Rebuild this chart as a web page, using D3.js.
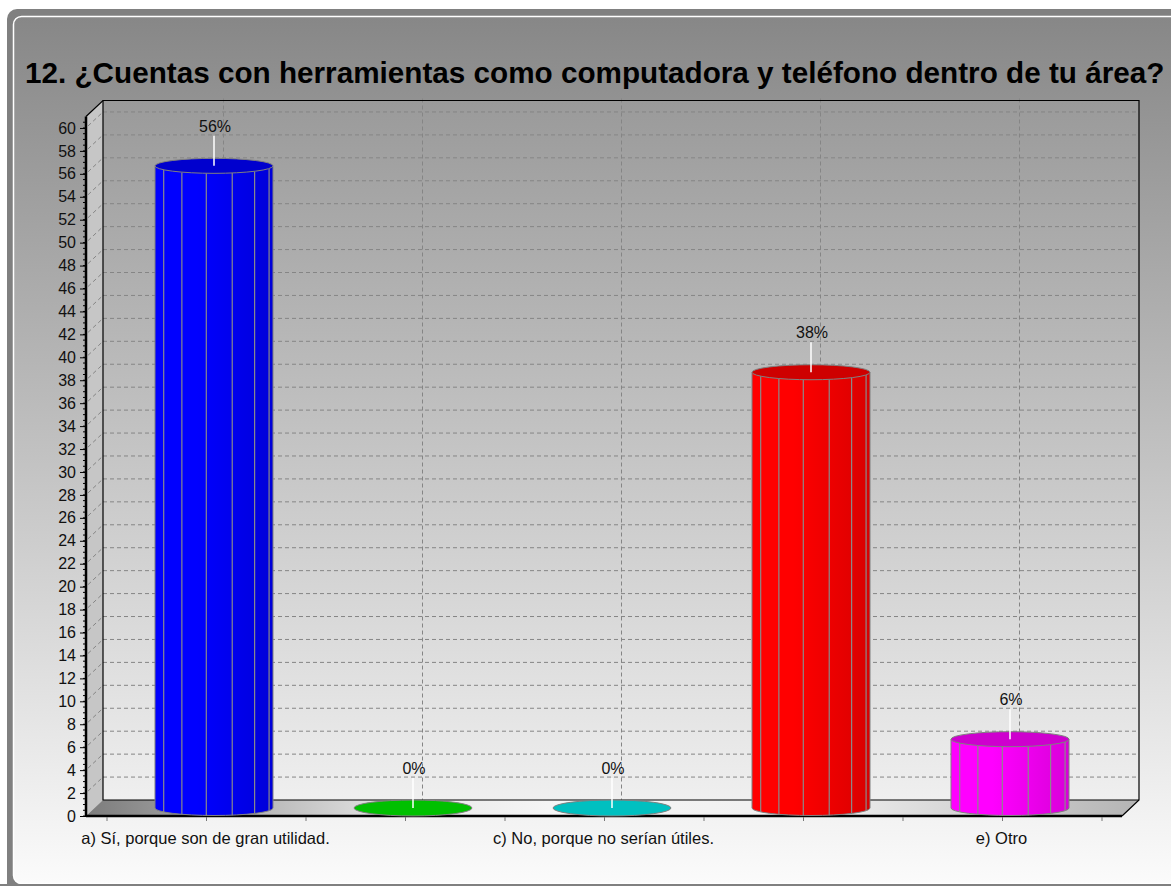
<!DOCTYPE html>
<html>
<head>
<meta charset="utf-8">
<script src="https://cdn.jsdelivr.net/npm/d3@7"></script>
<style>
  html, body { margin: 0; padding: 0; background: #ffffff; }
  svg { display: block; }
</style>
</head>
<body>
<svg id="chart" width="1171" height="886"></svg>
<script>
// Survey question 12: answer shares (percent)
const categories = ["a", "b", "c", "d", "e"];
const categoryLabels = ["a) Sí, porque son de gran utilidad.", "", "c) No, porque no serían útiles.", "", "e) Otro"];
const values = [56, 0, 0, 38, 6];
const valueLabels = ["56%", "0%", "0%", "38%", "6%"];
const barColors = ["#0000ff", "#00c000", "#00c0c0", "#ff0000", "#ff00ff"];
const yTicks = d3.range(0, 61, 2);
const title = "12. ¿Cuentas con herramientas como computadora y teléfono dentro de tu área?";

const svg = d3.select("#chart");
const W = 1171, H = 886;
const font = "'Liberation Sans', Arial, sans-serif";

// 3D depth offset of the back wall
const DX = 17, DY = 16;
const left = 86, right = 1122, bottom = 816;

const y = d3.scaleLinear().domain([0, 61]).range([bottom, 116.5]);
const x = d3.scaleBand().domain(categories).range([107, 1102]).padding(0);
const bw = x.bandwidth();
const xc = k => x(k) + bw / 2;

const defs = svg.append("defs");

// panel background
const pg = defs.append("linearGradient").attr("id", "panelGrad").attr("x1", 0).attr("y1", 0).attr("x2", 0).attr("y2", 1);
pg.append("stop").attr("offset", 0).attr("stop-color", "#878787");
pg.append("stop").attr("offset", 1).attr("stop-color", "#fbfbfb");

const wg = defs.append("linearGradient").attr("id", "wallGrad").attr("x1", 0).attr("y1", 0).attr("x2", 0).attr("y2", 1);
wg.append("stop").attr("offset", 0).attr("stop-color", "#9a9a9a");
wg.append("stop").attr("offset", 1).attr("stop-color", "#efefef");

const fg = defs.append("linearGradient").attr("id", "floorGrad").attr("x1", 0).attr("y1", 0).attr("x2", 1).attr("y2", 0);
[[0, "#7c7c7c"], [0.3, "#e8e8e8"], [0.45, "#f6f6f6"], [0.7, "#efefef"], [1, "#b4b4b4"]]
  .forEach(s => fg.append("stop").attr("offset", s[0]).attr("stop-color", s[1]));

// frame
svg.append("rect").attr("x", 7).attr("y", 9).attr("width", W + 20).attr("height", H - 9 + 20)
  .attr("rx", 10).attr("fill", "#808080");
svg.append("rect").attr("x", 13.5).attr("y", 16.5).attr("width", W + 10).attr("height", 867)
  .attr("rx", 8).attr("fill", "url(#panelGrad)").attr("stroke", "#ffffff").attr("stroke-width", 1.5);
svg.append("rect").attr("x", 0).attr("y", 884).attr("width", W).attr("height", 2).attr("fill", "#808080");

// title, sized to span the panel width
const titleText = svg.append("text").attr("x", 25).attr("y", 83)
  .attr("font-family", font).attr("font-weight", "bold")
  .attr("font-size", 29.5).attr("fill", "#000").text(title);
const tw = titleText.node().getComputedTextLength();
if (tw > 0) titleText.attr("font-size", 29.5 * 1140 / tw);

const g = svg.append("g");

// back wall
const wallTop = y.range()[1] - DY, wallBottom = bottom - DY;
g.append("rect").attr("x", left + DX).attr("y", wallTop)
  .attr("width", right - left).attr("height", wallBottom - wallTop)
  .attr("fill", "url(#wallGrad)");

// side wall
g.append("path")
  .attr("d", `M${left},${y.range()[1]} L${left + DX},${wallTop} L${left + DX},${wallBottom} L${left},${bottom} Z`)
  .attr("fill", "#c6c6c6");

// floor
g.append("path")
  .attr("d", `M${left},${bottom} L${left + DX},${wallBottom} L${right + DX},${wallBottom} L${right},${bottom} Z`)
  .attr("fill", "url(#floorGrad)");

// horizontal grid on back wall and side wall
yTicks.filter(v => v > 0).forEach(v => {
  g.append("line").attr("x1", left + DX).attr("x2", right + DX)
    .attr("y1", y(v) - DY).attr("y2", y(v) - DY)
    .attr("stroke", "#858585").attr("stroke-dasharray", "4,3");
  g.append("line").attr("x1", left + 2).attr("x2", left + DX)
    .attr("y1", y(v) - 2).attr("y2", y(v) - DY)
    .attr("stroke", "#858585").attr("stroke-dasharray", "4,3");
});

// vertical grid on back wall
categories.forEach(k => {
  g.append("line").attr("x1", xc(k) + DX).attr("x2", xc(k) + DX)
    .attr("y1", wallTop - 2).attr("y2", wallBottom)
    .attr("stroke", "#858585").attr("stroke-dasharray", "4,3");
});

// wall edges
g.append("path")
  .attr("d", `M${left},${y.range()[1]} L${left + DX},${wallTop} L${right + DX},${wallTop} L${right + DX},${wallBottom} L${right},${bottom}`)
  .attr("fill", "none").attr("stroke", "#000").attr("stroke-width", 1.2);
g.append("path")
  .attr("d", `M${left + DX},${wallTop} L${left + DX},${wallBottom} L${right + DX},${wallBottom}`)
  .attr("fill", "none").attr("stroke", "#000").attr("stroke-width", 1.2);

// y axis
const yAxis = d3.axisLeft(y).tickValues(yTicks).tickSize(6).tickPadding(4).tickFormat(d3.format("d"));
const ya = g.append("g").attr("transform", `translate(${left},0)`).call(yAxis);
ya.select(".domain").remove();
ya.selectAll(".tick line").attr("stroke", "#000");
ya.selectAll(".tick text").attr("font-family", font).attr("font-size", 16).attr("fill", "#111");
// minor ticks
d3.range(0, 61, 0.5).forEach(v => {
  g.append("line").attr("x1", left - 3).attr("x2", left).attr("y1", y(v)).attr("y2", y(v))
    .attr("stroke", "#000").attr("stroke-width", 1);
});
g.append("line").attr("x1", left).attr("x2", left).attr("y1", y.range()[1]).attr("y2", bottom + 1)
  .attr("stroke", "#000").attr("stroke-width", 2.5);

// x axis
g.append("line").attr("x1", left).attr("x2", right).attr("y1", bottom).attr("y2", bottom)
  .attr("stroke", "#000").attr("stroke-width", 2.5);
const xTickPos = [];
categories.forEach(k => { xTickPos.push(x(k)); xTickPos.push(xc(k)); });
xTickPos.push(x(categories[categories.length - 1]) + bw);
xTickPos.forEach(p => {
  g.append("line").attr("x1", p).attr("x2", p).attr("y1", bottom + 1).attr("y2", bottom + 5)
    .attr("stroke", "#777");
});
categories.forEach((k, i) => {
  if (!categoryLabels[i]) return;
  g.append("text").attr("x", xc(k) - 1).attr("y", 844).attr("text-anchor", "middle")
    .attr("font-family", font).attr("font-size", 16.5).attr("fill", "#111").text(categoryLabels[i]);
});

// cylinders
const RX = 59, RY = 7.5, BAR_SHIFT = 7.5;
categories.forEach((k, i) => {
  const v = values[i];
  const base = d3.color(barColors[i]);
  const dark = base.darker(0.6);
  const cx = xc(k) + BAR_SHIFT;
  const cyTop = y(v) - DY / 2;
  const cyBot = y(0) - DY / 2;

  const gid = "cyl" + i;
  const cg = defs.append("linearGradient").attr("id", gid).attr("x1", 0).attr("y1", 0).attr("x2", 1).attr("y2", 0);
  cg.append("stop").attr("offset", 0).attr("stop-color", base.formatHex());
  cg.append("stop").attr("offset", 0.35).attr("stop-color", base.formatHex());
  cg.append("stop").attr("offset", 1).attr("stop-color", base.darker(0.45).formatHex());

  const bg = g.append("g");
  if (v > 0) {
    bg.append("path")
      .attr("d", `M${cx - RX},${cyTop} L${cx - RX},${cyBot} A${RX},${RY} 0 0 0 ${cx + RX},${cyBot} L${cx + RX},${cyTop} Z`)
      .attr("fill", `url(#${gid})`).attr("stroke", "#808080").attr("stroke-width", 1);
    // facet edges
    d3.range(0, 6).forEach(j => {
      const a = (21 + 25.5 * j) * Math.PI / 180;
      const px = cx + RX * Math.cos(a);
      const off = RY * Math.sin(a);
      bg.append("line").attr("x1", px).attr("x2", px)
        .attr("y1", cyTop + off).attr("y2", cyBot + off)
        .attr("stroke", "#8a8a8a").attr("stroke-width", 1.2);
    });
  }
  bg.append("ellipse").attr("cx", cx).attr("cy", cyTop).attr("rx", RX).attr("ry", RY + (v > 0 ? 0 : 0.5))
    .attr("fill", v > 0 ? dark.formatHex() : base.formatHex())
    .attr("stroke", "#808080").attr("stroke-width", 1);

  // value label with leader
  bg.append("line").attr("x1", cx).attr("x2", cx).attr("y1", cyTop).attr("y2", cyTop - 30)
    .attr("stroke", "#ffffff").attr("stroke-width", 1.5);
  bg.append("text").attr("x", cx + 1).attr("y", cyTop - 34).attr("text-anchor", "middle")
    .attr("font-family", font).attr("font-size", 16).attr("fill", "#111").text(valueLabels[i]);
});
</script>
</body>
</html>
